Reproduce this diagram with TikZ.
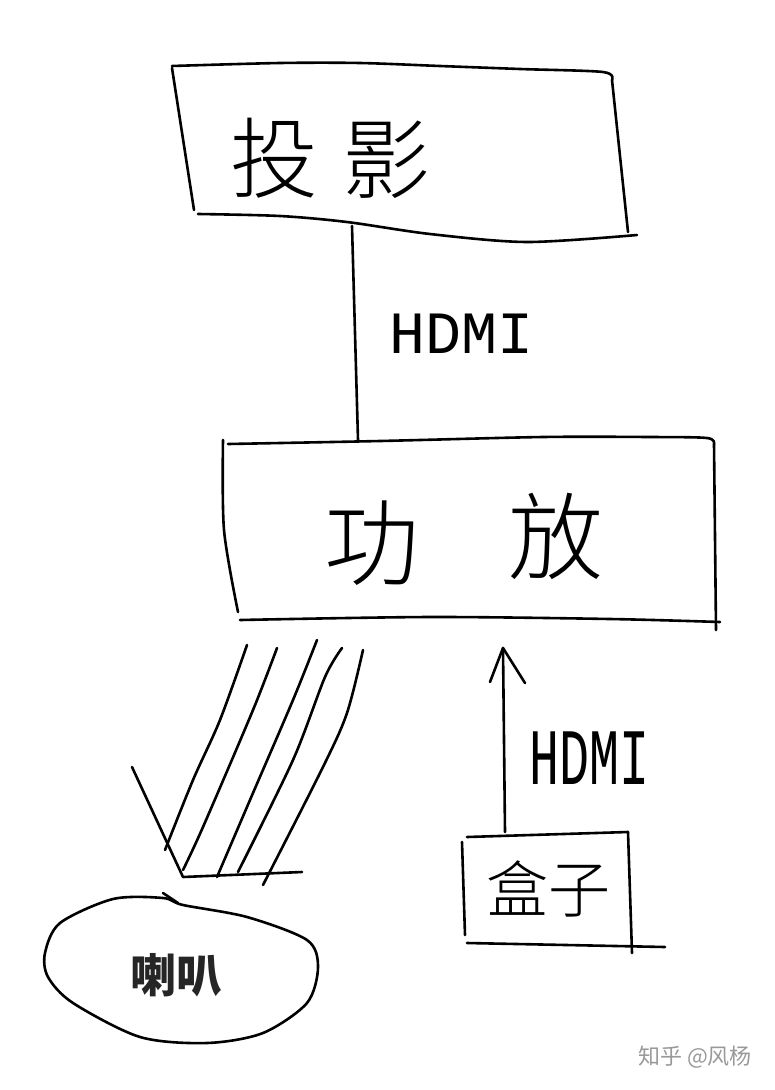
\documentclass[tikz,border=0pt]{standalone}
\usepackage{fontspec}
\newfontfamily\cjk{Noto Sans CJK SC}
\newfontfamily\cjkl{Noto Sans CJK SC Light}
\newfontfamily\hdmifont{Liberation Mono}
\begin{document}
\begin{tikzpicture}[x=1pt,y=-1pt,
  sk/.style={line width=2.6pt,line cap=round,line join=round,black},
  hand/.style={font=\cjkl\fontsize{#1}{#1}\selectfont,inner sep=0pt},
  hlabel/.style={font=\hdmifont\fontsize{#1}{#1}\selectfont,inner sep=0pt}]
\useasboundingbox (0,0) rectangle (775,1090);
\fill[white] (0,0) rectangle (775,1090);

% ---- projector box (touying) ----
\draw[sk] plot[smooth] coordinates {(172,66) (280,63) (360,63) (440,66) (520,69) (603,72) (612,80)};
\draw[sk] (612,80) -- (628,232);
\draw[sk] (172,68) -- (194,210);
\draw[sk] plot[smooth] coordinates {(198,214) (280,216) (347,222) (430,234) (527,242) (637,235)};
\node[hand=88] (tou) at (274,158) {投};
\node[hand=88] (ying) at (386,160) {影};
\coordinate (projB) at (352,226);

% ---- amplifier box (gongfang) ----
\draw[sk] plot[smooth] coordinates {(228,444) (380,441) (543,437) (650,437) (707,438) (714,444)};
\draw[sk] (714,444) -- (716,630);
\draw[sk] plot[smooth] coordinates {(223,440) (224,530) (238,612)};
\draw[sk] plot[smooth] coordinates {(240,620) (430,617) (610,619) (720,622)};
\node[hand=95] (gong) at (372,543) {功};
\node[hand=95] (fang) at (556,536) {放};
\coordinate (ampT) at (358,440);
\coordinate (ampIn) at (503,648);

% HDMI projector-amp
\draw[sk] (projB) -- (ampT);
\node[hlabel=60] (hdmiA) at (462,334) {HDMI};

% ---- speaker wires ----
\coordinate (spkV) at (183,877);
\draw[sk] plot[smooth] coordinates {(247,645) (220,720) (193,780) (165,850)};
\draw[sk] plot[smooth] coordinates {(277,648) (253,710) (203,827) (183,870)};
\draw[sk] plot[smooth] coordinates {(317,640) (293,700) (253,793) (217,877)};
\draw[sk] plot[smooth] coordinates {(342,648) (325,677) (293,760) (238,872)};
\draw[sk] plot[smooth] coordinates {(363,650) (347,713) (323,767) (263,885)};
\draw[sk] (132,767) -- (spkV) -- (302,872);

% ---- speaker (laba) ----
\draw[sk] plot[smooth cycle] coordinates {(163,898) (113,899) (60,923) (45,953) (48,977) (73,1003) (140,1037) (207,1043) (263,1033) (307,1003) (318,967) (307,940) (247,917) (183,905)};
\draw[sk] (163,893) -- (178,903);
\node[font=\cjk\bfseries\fontsize{46}{46}\selectfont,text=black!85,inner sep=0pt] (laba) at (176,975) {喇叭};

% ---- box (hezi) ----
\draw[sk] (467,837) -- (628,832);
\draw[sk] (628,832) -- (632,953);
\draw[sk] (462,842) -- (465,935);
\draw[sk] (467,943) -- (665,947);
\node[hand=62] (hezi) at (548,889) {盒子};
\coordinate (boxT) at (505,832);

% HDMI box-amp
\draw[sk] (boxT) -- (ampIn);
\draw[sk] (490,682) -- (ampIn) -- (525,683);
\node[hlabel=50] (hdmiB) at (590,758) {\scalebox{1}[1.6]{HDMI}};

% watermark
\node[font=\cjk\fontsize{22}{22}\selectfont,text=black!40,inner sep=0pt] (wm) at (695,1057) {知乎 @风杨};
\end{tikzpicture}
\end{document}
